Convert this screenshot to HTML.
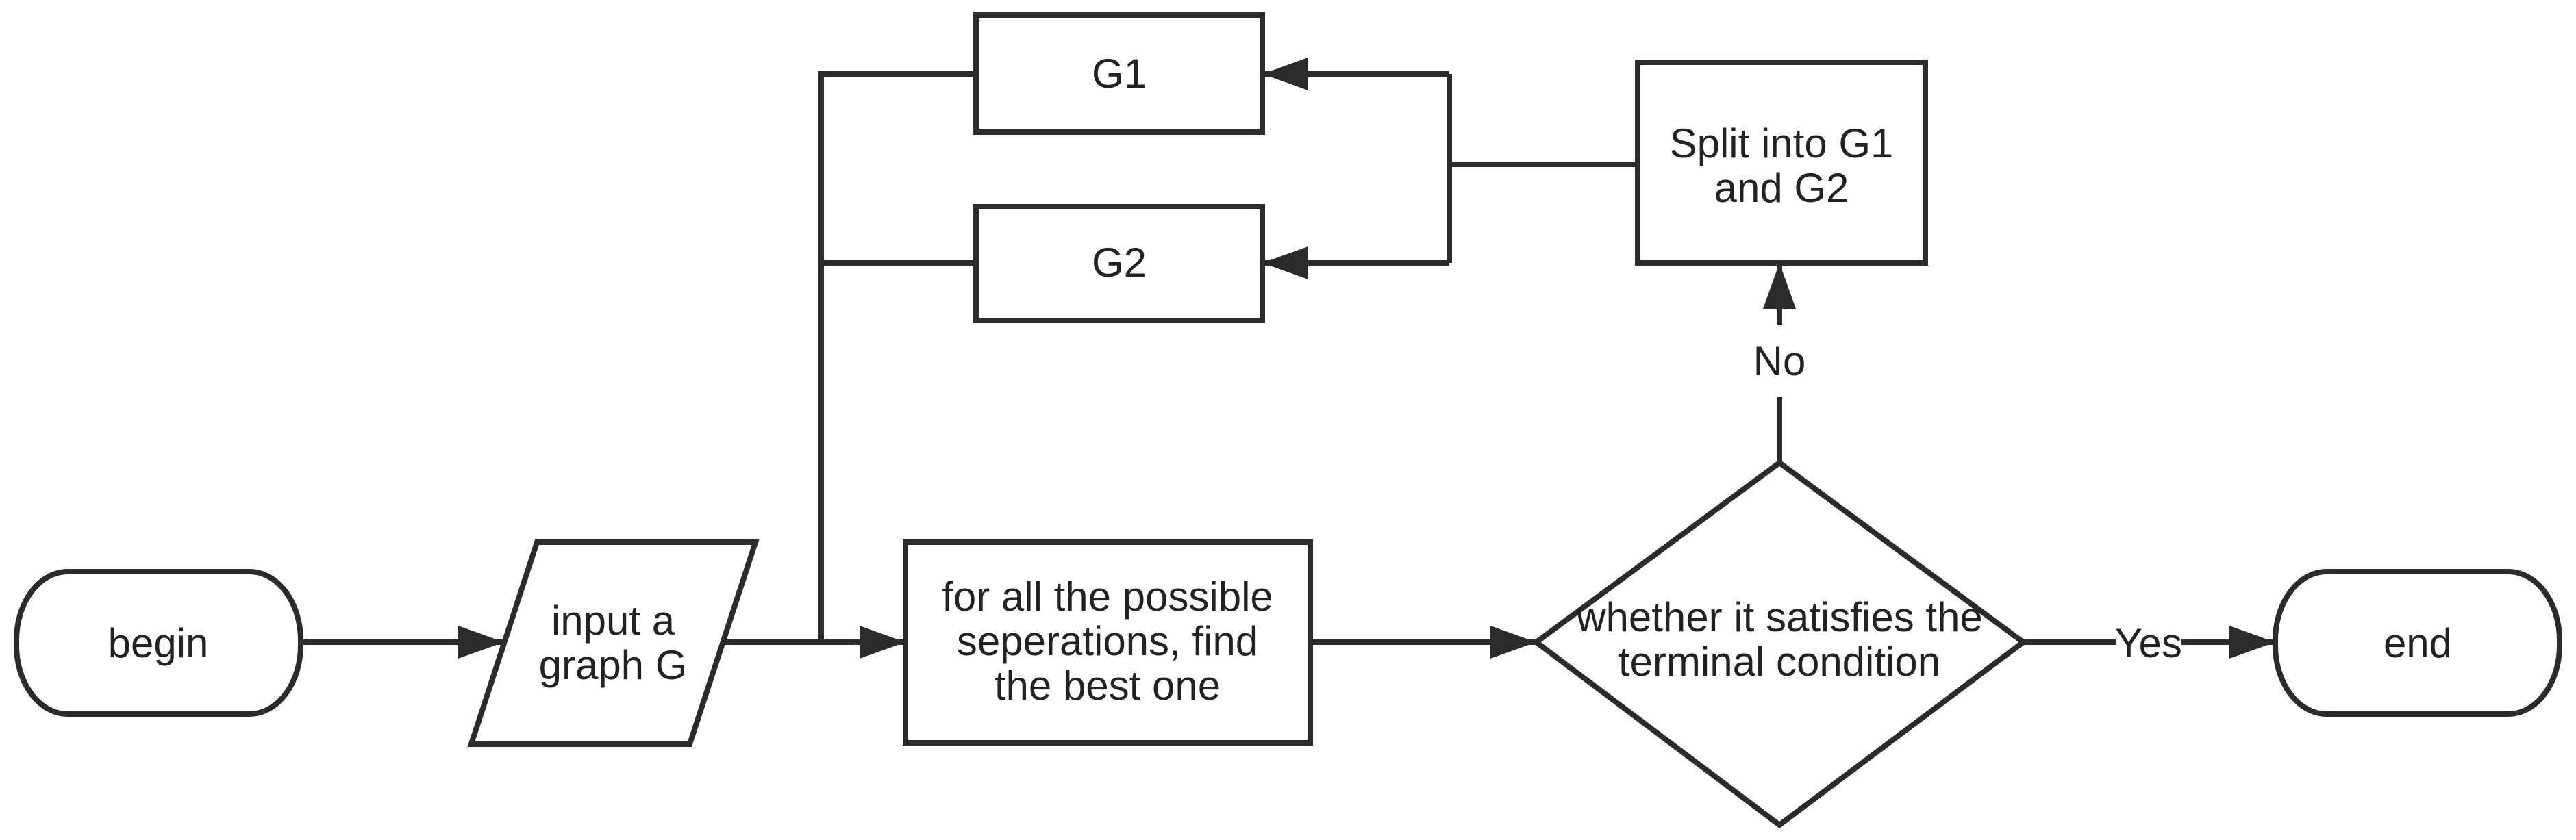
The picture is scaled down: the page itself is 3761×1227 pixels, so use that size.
<!DOCTYPE html>
<html><head><meta charset="utf-8"><style>
html,body{margin:0;padding:0;background:#fff;}
svg{display:block;}
text{font-family:"Liberation Sans",sans-serif;font-size:60px;fill:#222;text-anchor:middle;}
</style></head><body>
<svg width="3761" height="1227" viewBox="0 0 3761 1227" xmlns="http://www.w3.org/2000/svg">
<defs>
<marker id="a" markerWidth="67" markerHeight="48" refX="67" refY="24" orient="auto" markerUnits="userSpaceOnUse">
<path d="M0,0 L67,24 L0,48 Z" fill="#2b2b2b"/>
</marker>
</defs>
<g stroke="#2b2b2b" stroke-width="8" fill="none">
<rect x="24" y="835" width="415" height="208" rx="75" ry="100" fill="#fff"/>
<rect x="3322" y="835" width="415" height="208" rx="75" ry="100" fill="#fff"/>
<polygon points="784,792 1103,792 1007,1087 688,1087" fill="#fff"/>
<rect x="1322" y="792" width="591" height="293" fill="#fff"/>
<rect x="1425" y="22" width="418" height="171" fill="#fff"/>
<rect x="1425" y="302" width="418" height="166" fill="#fff"/>
<rect x="2391" y="91" width="420" height="293" fill="#fff"/>
<polygon points="2598,676 2954,938 2598,1205 2243,938" fill="#fff"/>
<line x1="439" y1="938" x2="736" y2="938" marker-end="url(#a)"/>
<line x1="1055" y1="938" x2="1322" y2="938" marker-end="url(#a)"/>
<polyline points="1425,108 1199,108 1199,938"/>
<line x1="1199" y1="384" x2="1425" y2="384"/>
<line x1="1913" y1="938" x2="2243" y2="938" marker-end="url(#a)"/>
<line x1="2391" y1="240" x2="2116" y2="240"/>
<polyline points="2116,108 2116,384"/>
<line x1="2116" y1="108" x2="1843" y2="108" marker-end="url(#a)"/>
<line x1="2116" y1="384" x2="1843" y2="384" marker-end="url(#a)"/>
<line x1="2598" y1="676" x2="2598" y2="580"/>
<line x1="2598" y1="475" x2="2598" y2="384" marker-end="url(#a)"/>
<line x1="2954" y1="938" x2="3090" y2="938"/>
<line x1="3185" y1="938" x2="3322" y2="938" marker-end="url(#a)"/>
</g>
<text x="231" y="960">begin</text>
<text x="3530" y="960">end</text>
<text x="895" y="927">input a</text>
<text x="895" y="992">graph G</text>
<text x="1617" y="892">for all the possible</text>
<text x="1617" y="957">seperations, find</text>
<text x="1617" y="1022">the best one</text>
<text x="1634" y="128">G1</text>
<text x="1634" y="404">G2</text>
<text x="2601" y="230">Split into G1</text>
<text x="2601" y="295">and G2</text>
<text x="2598" y="922">whether it satisfies the</text>
<text x="2598" y="987">terminal condition</text>
<text x="2598" y="548">No</text>
<text x="3137" y="960">Yes</text>
</svg>
</body></html>
